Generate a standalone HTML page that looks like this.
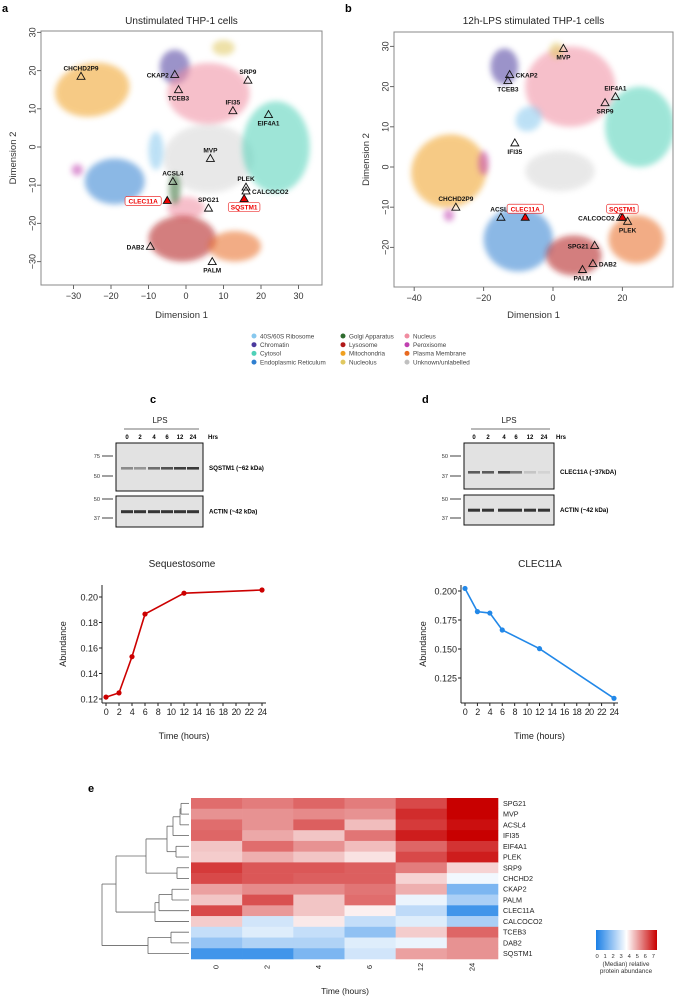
<!DOCTYPE html>
<html><head><meta charset="utf-8"><style>
body{margin:0;background:#fff;width:678px;height:997px;overflow:hidden;font-family:"Liberation Sans",sans-serif}
svg{position:absolute;left:0;top:0}
text{font-family:"Liberation Sans",sans-serif}
</style></head><body>
<svg id="fig" width="678" height="997" viewBox="0 0 678 997">
<defs>
<filter id="blur" x="-50%" y="-50%" width="200%" height="200%"><feGaussianBlur stdDeviation="3"/></filter>
<clipPath id="clipA"><rect x="41" y="31" width="281" height="254"/></clipPath>
<clipPath id="clipB"><rect x="394" y="32" width="279" height="255"/></clipPath>
<linearGradient id="cbar" x1="0" x2="1" y1="0" y2="0">
<stop offset="0" stop-color="#1a7fe6"/><stop offset="0.5" stop-color="#ffffff"/><stop offset="1" stop-color="#c80000"/></linearGradient>
</defs>
<g id="panelA"></g>
<g id="panelB"></g>
<g id="legend"></g>
<g id="blots"></g>
<g id="lineC"></g>
<g id="lineD"></g>
<g id="heat"></g>
</svg>
<script>
const NS="http://www.w3.org/2000/svg";
function el(p,tag,attrs,txt){const e=document.createElementNS(NS,tag);for(const k in attrs)e.setAttribute(k,attrs[k]);if(txt!==undefined)e.textContent=txt;p.appendChild(e);return e;}

// ---------- DATA ----------
const compNames=["40S/60S Ribosome","Chromatin","Cytosol","Endoplasmic Reticulum","Golgi Apparatus","Lysosome","Mitochondria","Nucleolus","Nucleus","Peroxisome","Plasma Membrane","Unknown/unlabelled"];
const compColors=["#87c8ee","#4b3a9e","#4fd1b8","#2f7fd0","#2e6b2e","#b01818","#f0a020","#e0c860","#f08ca0","#c040b0","#e86a20","#c0c0c0"];
const clustersA=[[11,6,-3,12,9,0],[6,-25,15,10,7,-10],[1,-3,21,4,4.5,0],[7,10,26,3,2,0],[8,6,14,11,8,0],[8,0,-16,5,3,0],[2,24,0,9,12,0],[0,-8,-1,2,5,0],[3,-19,-9,8,6,0],[9,-29,-6,1.5,1.5,0],[4,-3,-11,1.5,4,0],[5,-1,-24,9,6,0],[10,13,-26,7,4,0]];
const clustersB=[[11,2,-1,10,5,0],[6,-30,-1,11,9,-30],[9,-20,1,1.5,3,0],[9,-30,-12,1.5,1.5,0],[1,-14,25,4,4.5,0],[8,5,20,13,10,0],[7,1,29,2,2,0],[2,25,10,10,10,0],[0,-7,12,4,3,-35],[3,-10,-18,10,8,0],[5,6,-22,8,5,0],[10,24,-18,8,6,0]];
const markersA=[["CHCHD2P9",-28,18.5,0,"t"],["CKAP2",-3,19,0,"l"],["TCEB3",-2,15,0,"b"],["SRP9",16.5,17.5,0,"t"],["IFI35",12.5,9.5,0,"t"],["EIF4A1",22,8.5,0,"b"],["MVP",6.5,-3,0,"t"],["ACSL4",-3.5,-9,0,"t"],["PLEK",16,-10.5,0,"t"],["CALCOCO2",16,-11.5,0,"r"],["CLEC11A",-5,-14,1,"l"],["SQSTM1",15.5,-13.5,1,"b"],["SPG21",6,-16,0,"t"],["DAB2",-9.5,-26,0,"l"],["PALM",7,-30,0,"b"]];
const markersB=[["MVP",3,29.5,0,"b"],["CKAP2",-12.5,23,0,"r"],["TCEB3",-13,21.5,0,"b"],["EIF4A1",18,17.5,0,"t"],["SRP9",15,16,0,"b"],["IFI35",-11,6,0,"b"],["CHCHD2P9",-28,-10,0,"t"],["ACSL4",-15,-12.5,0,"t"],["CLEC11A",-8,-12.5,1,"t"],["CALCOCO2",19.5,-12.5,0,"l"],["SQSTM1",20,-12.5,1,"t"],["PLEK",21.5,-13.5,0,"b"],["SPG21",12,-19.5,0,"l"],["DAB2",11.5,-24,0,"r"],["PALM",8.5,-25.5,0,"b"]];
const xTicksA=[-30,-20,-10,0,10,20,30], yTicksA=[-30,-20,-10,0,10,20,30];
const xTicksB=[-40,-20,0,20], yTicksB=[-20,-10,0,10,20,30];

const hours=[0,2,4,6,12,24];
const sqstm1Vals=[0.1215,0.1248,0.1532,0.1866,0.2030,0.2055];
const clec11aVals=[0.2022,0.1822,0.1810,0.1664,0.1503,0.1075];
const sqYTicks=[0.12,0.14,0.16,0.18,0.20];
const clYTicks=[0.125,0.150,0.175,0.200];
const xTickLabels=[0,2,4,6,8,10,12,14,16,18,20,22,24];

const heatRows=["SPG21","MVP","ACSL4","IFI35","EIF4A1","PLEK","SRP9","CHCHD2","CKAP2","PALM","CLEC11A","CALCOCO2","TCEB3","DAB2","SQSTM1"];
const heatCols=["0","2","4","6","12","24"];
const heatVals=[
[5.5,5.3,5.6,5.3,6.0,7.0],
[5.0,5.0,5.1,5.0,6.4,7.0],
[5.5,5.0,5.7,4.4,6.2,6.8],
[5.6,4.7,4.3,5.4,6.6,7.0],
[4.3,5.5,5.0,4.4,5.6,6.3],
[4.2,4.6,4.3,3.9,6.0,6.6],
[6.2,5.8,5.8,5.7,5.3,4.1],
[6.0,5.8,5.7,5.7,4.1,3.3],
[4.8,5.1,5.1,5.4,4.6,1.5],
[4.3,5.9,4.3,5.5,3.2,2.2],
[6.0,4.9,4.3,3.7,2.5,0.6],
[4.2,2.8,3.8,2.6,3.0,2.2],
[2.6,3.0,2.6,1.8,4.2,5.6],
[1.9,2.3,2.3,3.0,3.2,5.0],
[0.6,0.6,1.5,2.8,4.8,5.0]];

// ---------- TSNE ----------
function tsne(g,clip,frame,sx,sy,xT,yT,clusters,markers,title,letter,lx){
  el(g,"text",{x:lx,y:12,"font-size":"11","font-weight":"bold"},letter);
  el(g,"text",{x:(frame[0]+frame[2])/2,y:24,"font-size":"10","text-anchor":"middle",fill:"#222"},title);
  const cg=el(g,"g",{"clip-path":"url(#"+clip+")"});
  clusters.forEach(c=>{
    const e=el(cg,"ellipse",{cx:sx(c[1]),cy:sy(c[2]),rx:Math.abs(sx(c[3])-sx(0)),ry:Math.abs(sy(c[4])-sy(0)),fill:compColors[c[0]],opacity:c[0]==11?0.35:0.55,filter:"url(#blur)",transform:`rotate(${c[5]} ${sx(c[1])} ${sy(c[2])})`});
    
    
  });
  el(g,"rect",{x:frame[0],y:frame[1],width:frame[2]-frame[0],height:frame[3]-frame[1],fill:"none",stroke:"#888","stroke-width":"1"});
  xT.forEach(t=>{const x=sx(t);el(g,"line",{x1:x,x2:x,y1:frame[3],y2:frame[3]+4,stroke:"#666"});el(g,"text",{x:x,y:frame[3]+14,"font-size":"9","text-anchor":"middle",fill:"#333"},t<0?"\u2212"+(-t):t);});
  yT.forEach(t=>{const y=sy(t);el(g,"line",{x1:frame[0]-4,x2:frame[0],y1:y,y2:y,stroke:"#666"});el(g,"text",{x:frame[0]-8,y:y,"font-size":"9","text-anchor":"middle",fill:"#333",transform:`rotate(-90 ${frame[0]-8} ${y})`,"dominant-baseline":"middle"},t<0?"\u2212"+(-t):t);});
  const xl=el(g,"text",{x:(frame[0]+frame[2])/2,y:318,"font-size":"9.5","text-anchor":"middle",fill:"#333"},"Dimension 1");
  
  const yl=el(g,"text",{x:frame[0]-25,y:(frame[1]+frame[3])/2,"font-size":"9.5","text-anchor":"middle",fill:"#333",transform:`rotate(-90 ${frame[0]-25} ${(frame[1]+frame[3])/2})`},"Dimension 2");
  
  markers.forEach(m=>{
    const x=sx(m[1]),y=sy(m[2]);
    const tri=el(g,"polygon",{points:`${x},${y-4} ${x-4},${y+3} ${x+4},${y+3}`,fill:m[3]?"#e00":"none",stroke:"#111","stroke-width":"0.9"});
    
    
    let tx=x,ty=y,anc="middle";
    if(m[4]=="t")ty=y-6; else if(m[4]=="b")ty=y+11; else if(m[4]=="l"){tx=x-6;anc="end";ty=y+3;} else {tx=x+6;anc="start";ty=y+3;}
    if(m[3]){
      const w=m[0].length*4.6+4;const rx=anc=="middle"?tx-w/2:(anc=="end"?tx-w:tx);
      el(g,"rect",{x:rx,y:ty-7,width:w,height:9,rx:2,fill:"#fff",stroke:"#e33","stroke-width":"0.7"});
      tx=rx+w/2;anc="middle";
    }
    const t=el(g,"text",{x:tx,y:ty,"font-size":"6.5","font-weight":"bold","text-anchor":anc,fill:m[3]?"#e00":"#111"},m[0]);
    
    
  });
}
tsne(document.getElementById("panelA"),"clipA",[41,31,322,285],v=>186+3.75*v,v=>147-3.82*v,xTicksA,yTicksA,clustersA,markersA,"Unstimulated THP-1 cells","a",2);
tsne(document.getElementById("panelB"),"clipB",[394,32,673,287],v=>553+3.47*v,v=>167-4.02*v,xTicksB,yTicksB,clustersB,markersB,"12h-LPS stimulated THP-1 cells","b",345);

// ---------- LEGEND ----------
const lg=document.getElementById("legend");
const legX=[[254,260],[343,349],[407,413]];
compNames.forEach((n,i)=>{
  const c=Math.floor(i/4),r=i%4,y=336+r*8.7;
  const d=el(lg,"circle",{cx:legX[c][0],cy:y,r:2.5,fill:compColors[i]});
  
  const t=el(lg,"text",{x:legX[c][1],y:y+2.3,"font-size":"6.3",fill:"#444"},n);
  
});

// ---------- BLOTS ----------
const bg=document.getElementById("blots");
function blot(letter,lx,ly,box,lanes,topBands,label1,markers1,markers2,hrsX){
  el(bg,"text",{x:lx,y:ly,"font-size":"11","font-weight":"bold"},letter);
  const cx=(lanes[0]+lanes[5])/2;
  el(bg,"text",{x:cx,y:423,"font-size":"8","text-anchor":"middle",fill:"#222"},"LPS");
  el(bg,"line",{x1:lanes[0]-3,x2:lanes[5]+6,y1:429,y2:429,stroke:"#444","stroke-width":"0.8"});
  hours.forEach((h,i)=>el(bg,"text",{x:lanes[i],y:439,"font-size":"6","font-weight":"bold","text-anchor":"middle"},h));
  el(bg,"text",{x:hrsX,y:439,"font-size":"6","font-weight":"bold"},"Hrs");
  const r1=el(bg,"rect",{x:box[0],y:443,width:box[1]-box[0],height:box[2]-443,fill:"#e2e2e2",stroke:"#111","stroke-width":"1"});
  
  const r2=el(bg,"rect",{x:box[0],y:box[3],width:box[1]-box[0],height:box[4]-box[3],fill:"#e2e2e2",stroke:"#111","stroke-width":"1"});
  
  lanes.forEach((x,i)=>{
    el(bg,"rect",{x:x-6,y:topBands.y-1,width:12,height:2.6,fill:"#222",opacity:topBands.o[i]});
    el(bg,"rect",{x:x-6,y:(box[3]+box[4])/2-1.3,width:12,height:3,fill:"#222",opacity:0.9});
  });
  el(bg,"text",{x:box[1]+6,y:topBands.y+2,"font-size":"6.2","font-weight":"bold"},label1);
  el(bg,"text",{x:box[1]+6,y:(box[3]+box[4])/2+2,"font-size":"6.2","font-weight":"bold"},"ACTIN (~42 kDa)");
  markers1.concat(markers2).forEach(m=>{
    el(bg,"line",{x1:box[0]-14,x2:box[0]-3,y1:m[1],y2:m[1],stroke:"#111","stroke-width":"0.8"});
    el(bg,"text",{x:box[0]-16,y:m[1]+2,"font-size":"5.6","text-anchor":"end",fill:"#333"},m[0]);
  });
}
blot("c",150,403,[116,203,491,496,527],[127,140,154,167,180,193],{y:468,o:[0.45,0.4,0.6,0.75,0.85,0.88]},"SQSTM1 (~62 kDa)",[["75",456],["50",476]],[["50",499],["37",518]],208);
blot("d",422,403,[464,554,489,495,525],[474,488,504,516,530,544],{y:472,o:[0.7,0.7,0.8,0.55,0.15,0.08]},"CLEC11A (~37kDA)",[["50",456],["37",476]],[["50",499],["37",518]],556);

// ---------- LINE CHARTS ----------
function lineChart(g,yT,vals,color,ax,fmt,title){
  const x0=ax.x0,x1=ax.x1;
  const sx=h=>x0+(x1-x0)*h/24, sy=v=>ax.yA+(v-ax.vA)*(ax.yB-ax.yA)/(ax.vB-ax.vA);
  el(g,"text",{x:ax.tx,y:567,"font-size":"10","text-anchor":"middle",fill:"#222"},title);
  el(g,"line",{x1:ax.ax,x2:ax.ax,y1:585,y2:703,stroke:"#222","stroke-width":"1"});
  el(g,"line",{x1:ax.ax,x2:x1+4,y1:703,y2:703,stroke:"#222","stroke-width":"1"});
  yT.forEach(t=>{const y=sy(t);el(g,"line",{x1:ax.ax-3,x2:ax.ax,y1:y,y2:y,stroke:"#222"});el(g,"text",{x:ax.ax-4,y:y+3.5,"font-size":"9","text-anchor":"end",fill:"#222"},fmt(t));});
  xTickLabels.forEach(t=>{const x=sx(t);el(g,"line",{x1:x,x2:x,y1:703,y2:706,stroke:"#222"});el(g,"text",{x:x,y:715,"font-size":"9","text-anchor":"middle",fill:"#222","letter-spacing":"-0.6"},t);});
  el(g,"text",{x:(x0+x1)/2,y:739,"font-size":"9","text-anchor":"middle",fill:"#222"},"Time (hours)");
  el(g,"text",{x:ax.ylx,y:644,"font-size":"9","text-anchor":"middle",fill:"#222",transform:`rotate(-90 ${ax.ylx} 644)`},"Abundance");
  const pts=hours.map((h,i)=>sx(h)+","+sy(vals[i])).join(" ");
  const pl=el(g,"polyline",{points:pts,fill:"none",stroke:color,"stroke-width":"1.6"});
  
  hours.forEach((h,i)=>{const c=el(g,"circle",{cx:sx(h),cy:sy(vals[i]),r:2.6,fill:color});
    });
}
lineChart(document.getElementById("lineC"),sqYTicks,sqstm1Vals,"#cc0000",{x0:106,x1:262,ax:102,yA:699,vA:0.12,yB:597,vB:0.20,tx:182,ylx:66},v=>v.toFixed(2),"Sequestosome");
lineChart(document.getElementById("lineD"),clYTicks,clec11aVals,"#2288e8",{x0:465,x1:614,ax:461,yA:678,vA:0.125,yB:591,vB:0.200,tx:540,ylx:426},v=>v.toFixed(3),"CLEC11A");

// ---------- HEATMAP ----------
const hg=document.getElementById("heat");
el(hg,"text",{x:88,y:792,"font-size":"11","font-weight":"bold"},"e");
const HX=191,HW=307/6,HY=798,HH=161/15;
function hcol(v){const t=Math.max(0,Math.min(1,v/7));
  let a,b,f;if(t<0.5){a=[26,127,230];b=[255,255,255];f=t/0.5;}else{a=[255,255,255];b=[200,0,0];f=(t-0.5)/0.5;}
  return `rgb(${a.map((c,i)=>Math.round(c+(b[i]-c)*f)).join(",")})`;}
heatVals.forEach((row,r)=>row.forEach((v,c)=>{
  const rc=el(hg,"rect",{x:HX+c*HW,y:HY+r*HH,width:HW+0.3,height:HH+0.3,fill:hcol(v)});
  
}));
heatRows.forEach((n,r)=>el(hg,"text",{x:503,y:HY+(r+0.5)*HH+2.5,"font-size":"7.2",fill:"#222"},n));
heatCols.forEach((n,c)=>{const x=HX+(c+0.5)*HW;el(hg,"text",{x:x,y:967,"font-size":"7.5","text-anchor":"middle",fill:"#222",transform:`rotate(-90 ${x} 967)`,"dominant-baseline":"middle"},n);});
el(hg,"text",{x:345,y:994,"font-size":"8.5","text-anchor":"middle",fill:"#222"},"Time (hours)");
const ry=i=>HY+(i+0.5)*HH;
function seg(x1,y1,x2,y2){el(hg,"line",{x1:x1,y1:y1,x2:x2,y2:y2,stroke:"#666","stroke-width":"0.8"});}
function join(xa,ya,xb,yb,xj){seg(xa,ya,xj,ya);seg(xb,yb,xj,yb);seg(xj,ya,xj,yb);return (ya+yb)/2;}
let a1=join(189,ry(0),189,ry(1),181);
let a2=join(181,a1,189,ry(2),180);
let a3=join(180,a2,189,ry(3),173);
let b1=join(189,ry(4),189,ry(5),176);
let a4=join(173,a3,176,b1,167);
let c1=join(189,ry(6),189,ry(7),177);
let a5=join(167,a4,177,c1,146);
let d1=join(189,ry(8),189,ry(9),172);
let d2=join(172,d1,189,ry(10),159);
let d3=join(159,d2,189,ry(11),155);
let g1=join(146,a5,155,d3,116);
let e1=join(189,ry(12),189,ry(13),171);
let e2=join(171,e1,189,ry(14),148);
join(116,g1,148,e2,102);
</script>
<svg width="678" height="997" style="pointer-events:none">
<rect x="596" y="930" width="61" height="20" fill="url(#cbar)"/>
<text x="626" y="958" font-size="5.8" text-anchor="middle" fill="#333" letter-spacing="1.6" font-family="Liberation Sans">0 1 2 3 4 5 6 7</text>
<text x="626" y="966" font-size="6.3" text-anchor="middle" fill="#333" font-family="Liberation Sans">(Median) relative</text>
<text x="626" y="973" font-size="6.3" text-anchor="middle" fill="#333" font-family="Liberation Sans">protein abundance</text>
</svg>
</body></html>
